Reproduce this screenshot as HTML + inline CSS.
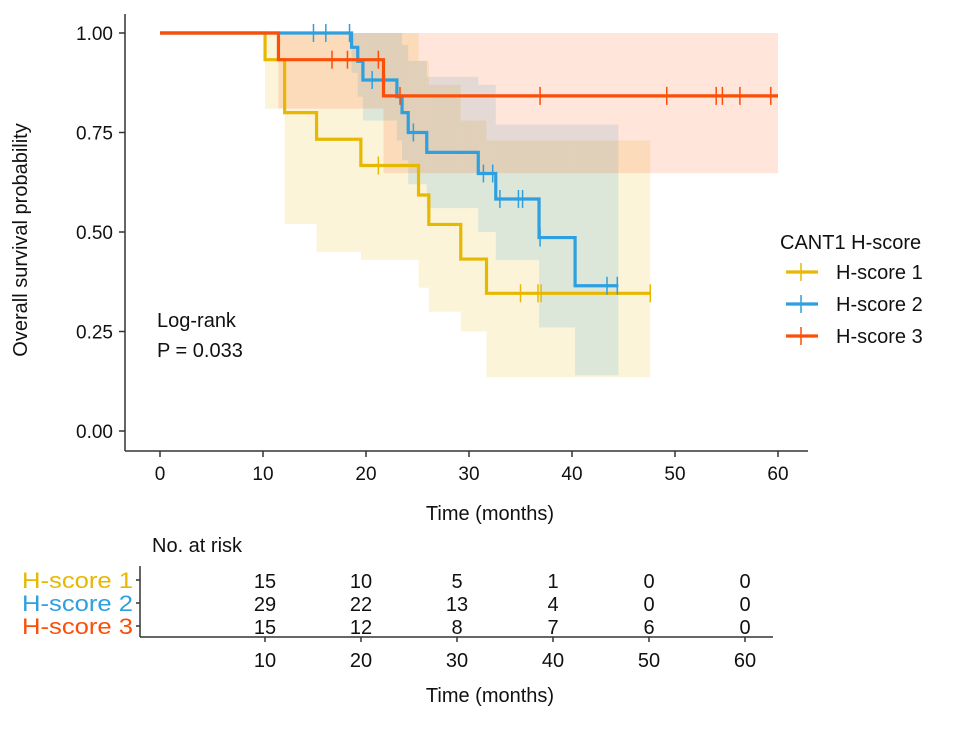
<!DOCTYPE html>
<html><head><meta charset="utf-8"><style>
body{margin:0;background:#fff;}
svg text{font-family:"Liberation Sans",Arial,sans-serif;fill:#111;}
</style></head><body>
<svg id="chart" width="969" height="726" viewBox="0 0 969 726" xmlns="http://www.w3.org/2000/svg">
<g id="bands"></g>
<g id="lines"></g>
<g id="axes"></g>
<g id="table"></g>
</svg>
<script>
const groups = ["H-score 1","H-score 2","H-score 3"];
const colors = ["#E7B800","#2E9FDF","#FC4E07"];
const stepTimes1 = [10.2,12.1,15.2,19.5,25.1,26.1,29.2,31.7];
const stepSurv1 = [0.933,0.80,0.733,0.667,0.593,0.519,0.432,0.346];
const lower1 = [1,0.81,0.52,0.45,0.43,0.36,0.30,0.25,0.135];
const upper1 = [1,1,1,1,1,0.93,0.87,0.78,0.73];
const censor1 = [21.2,35.0,36.7,37.0,47.6];
const end1 = 47.6;
const stepTimes2 = [18.6,19.2,19.7,23.0,23.5,24.1,25.9,30.9,32.6,36.8,40.3];
const stepSurv2 = [0.964,0.929,0.882,0.84,0.80,0.75,0.70,0.647,0.583,0.486,0.365];
const lower2 = [1,0.9,0.84,0.78,0.73,0.68,0.62,0.56,0.5,0.43,0.26,0.14];
const upper2 = [1,1,1,1,1,0.97,0.93,0.89,0.87,0.77,0.77,0.77];
const censor2 = [14.9,16.1,18.4,20.6,24.6,31.4,32.3,33.0,34.8,35.2,36.9,43.4,44.4];
const end2 = 44.5;
const stepTimes3 = [11.5,21.7];
const stepSurv3 = [0.933,0.842];
const lower3 = [1,0.81,0.648];
const upper3 = [1,1,1];
const censor3 = [16.7,18.2,21.2,23.3,36.9,49.2,54.0,54.6,56.3,59.3];
const end3 = 60;
const xTicks = [0,10,20,30,40,50,60];
const yTicks = [0,0.25,0.5,0.75,1.0];
const tableTicks = [10,20,30,40,50,60];
const risk1 = [15,10,5,1,0,0];
const risk2 = [29,22,13,4,0,0];
const risk3 = [15,12,8,7,6,0];

const NS="http://www.w3.org/2000/svg";
const X = t => 160 + t*10.3;
const Y = s => 431 - s*398;
const TX = t => 169 + t*9.6;
function mk(tag, attrs, parent){const e=document.createElementNS(NS,tag);for(const k in attrs)e.setAttribute(k,attrs[k]);parent.appendChild(e);return e;}
const bands=document.getElementById('bands'), lines=document.getElementById('lines'), axes=document.getElementById('axes'), table=document.getElementById('table');

const series=[
 {t:stepTimes1,s:stepSurv1,lo:lower1,up:upper1,c:censor1,end:end1},
 {t:stepTimes2,s:stepSurv2,lo:lower2,up:upper2,c:censor2,end:end2},
 {t:stepTimes3,s:stepSurv3,lo:lower3,up:upper3,c:censor3,end:end3}];
series.forEach((sr,i)=>{
  const bounds=[0].concat(sr.t).concat([sr.end]);
  for(let k=0;k<bounds.length-1;k++){
    const r=mk('rect',{x:X(bounds[k]),y:Y(sr.up[k]),width:X(bounds[k+1])-X(bounds[k]),height:Math.max(0,Y(sr.lo[k])-Y(sr.up[k])),fill:colors[i],'fill-opacity':0.15},bands);
    
    
  }
  let d='M'+X(0)+','+Y(1);
  sr.t.forEach((tt,k)=>{d+=' H'+X(tt)+' V'+Y(sr.s[k]);});
  d+=' H'+X(sr.end);
  const p=mk('path',{d:d,fill:'none',stroke:colors[i],'stroke-width':3.2},lines);
  
  
  sr.c.forEach(ct=>{
    let sv=1;sr.t.forEach((tt,k)=>{if(tt<=ct)sv=sr.s[k];});
    const m=mk('line',{x1:X(ct),x2:X(ct),y1:Y(sv)-9,y2:Y(sv)+9,stroke:colors[i],'stroke-width':1.5},lines);
    
    
  });
});

mk('line',{x1:125,y1:14,x2:125,y2:451,stroke:'#333','stroke-width':1.5},axes);
mk('line',{x1:125,y1:451,x2:808,y2:451,stroke:'#333','stroke-width':1.5},axes);
xTicks.forEach(v=>{
  mk('line',{x1:X(v),x2:X(v),y1:451,y2:457,stroke:'#333','stroke-width':1.5},axes);
  const t=mk('text',{x:X(v),y:480,'text-anchor':'middle','font-size':19},axes);t.textContent=v;
  
  
});
yTicks.forEach(v=>{
  mk('line',{x1:119,x2:125,y1:Y(v),y2:Y(v),stroke:'#333','stroke-width':1.5},axes);
  const t=mk('text',{x:113,y:Y(v)+7,'text-anchor':'end','font-size':19},axes);t.textContent=v.toFixed(2);
  
  
});
let tt=mk('text',{x:490,y:520,'text-anchor':'middle','font-size':20},axes);tt.textContent='Time (months)';


tt=mk('text',{x:0,y:0,'text-anchor':'middle','font-size':20,transform:'translate(27,240) rotate(-90)'},axes);tt.textContent='Overall survival probability';


tt=mk('text',{x:157,y:327,'font-size':20},axes);tt.textContent='Log-rank';


tt=mk('text',{x:157,y:357,'font-size':20},axes);tt.textContent='P = 0.033';


tt=mk('text',{x:780,y:249,'font-size':20},axes);tt.textContent='CANT1 H-score';


groups.forEach((g,i)=>{
  const y=272+i*32;
  mk('line',{x1:786,x2:818,y1:y,y2:y,stroke:colors[i],'stroke-width':3.2},axes);
  mk('line',{x1:801,x2:801,y1:y-9,y2:y+9,stroke:colors[i],'stroke-width':1.5},axes);
  const t=mk('text',{x:836,y:y+7,'font-size':20},axes);t.textContent=g;
  
  
});
tt=mk('text',{x:152,y:552,'font-size':20},table);tt.textContent='No. at risk';


mk('line',{x1:140,y1:566,x2:140,y2:637,stroke:'#333','stroke-width':1.5},table);
mk('line',{x1:140,y1:637,x2:773,y2:637,stroke:'#333','stroke-width':1.5},table);
const risks=[risk1,risk2,risk3];
risks.forEach((row,i)=>{
  const y=580+i*23;
  mk('line',{x1:136,x2:140,y1:y,y2:y,stroke:'#333','stroke-width':1.5},table);
  const lab=mk('text',{x:22,y:y+8,'font-size':22,textLength:111,lengthAdjust:'spacingAndGlyphs',style:'fill:'+colors[i]},table);lab.textContent=groups[i];
  
  
  row.forEach((v,k)=>{
    const t=mk('text',{x:TX(tableTicks[k]),y:y+8,'text-anchor':'middle','font-size':20},table);t.textContent=v;
    
    
  });
});
tableTicks.forEach(v=>{
  mk('line',{x1:TX(v),x2:TX(v),y1:637,y2:642,stroke:'#333','stroke-width':1.5},table);
  const t=mk('text',{x:TX(v),y:667,'text-anchor':'middle','font-size':20},table);t.textContent=v;
  
  
});
tt=mk('text',{x:490,y:702,'text-anchor':'middle','font-size':20},table);tt.textContent='Time (months)';


</script>
</body></html>
